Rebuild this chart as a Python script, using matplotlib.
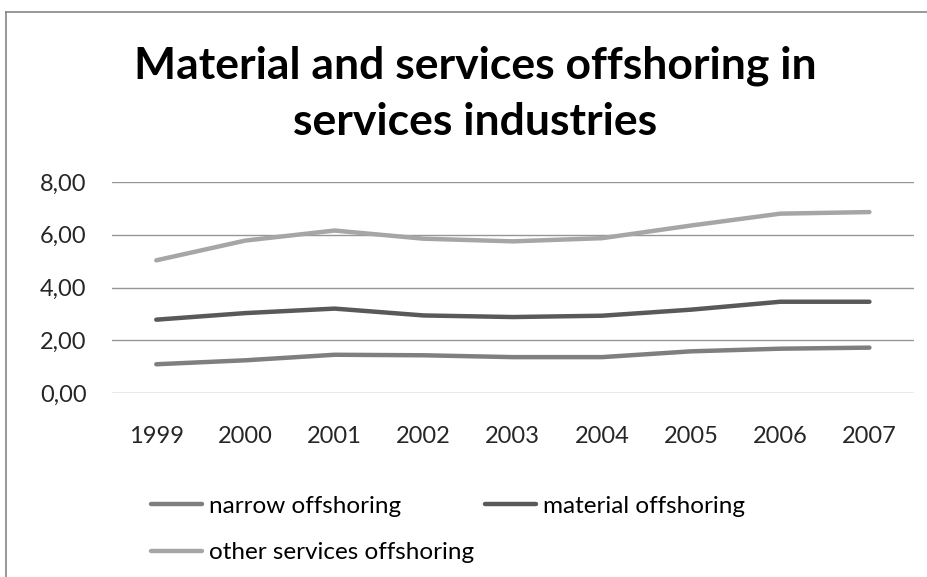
import matplotlib.pyplot as plt
from matplotlib.lines import Line2D
import numpy as np

years = ['1999', '2000', '2001', '2002', '2003', '2004', '2005', '2006', '2007']
narrow = [1.09, 1.24, 1.45, 1.43, 1.36, 1.36, 1.58, 1.68, 1.72]
material = [2.78, 3.03, 3.20, 2.94, 2.88, 2.93, 3.16, 3.46, 3.46]
other_services = [5.03, 5.78, 6.16, 5.85, 5.75, 5.87, 6.35, 6.80, 6.86]
series_names = ['narrow offshoring', 'material offshoring', 'other services offshoring']
title_lines = ['Material and services offshoring in', 'services industries']
yticks = [0, 2, 4, 6, 8]

plt.rcParams['font.family'] = ['Lato', 'DejaVu Sans']

W, H = 927, 577
fig = plt.figure(figsize=(W / 100, H / 100), dpi=100)
ax = fig.add_axes([111.7 / W, 1 - 393 / H, (914 - 111.7) / W, (393 - 182) / H])

colors = ['#7f7f7f', '#595959', '#a6a6a6']
x = np.arange(len(years))
lines = []
for vals, name, c in zip([narrow, material, other_services], series_names, colors):
    ln, = ax.plot(x, vals, color=c, lw=3.2, label=name, solid_capstyle='round', solid_joinstyle='round')
    lines.append(ln)

ax.set_xlim(-0.5, len(years) - 0.5)
ax.set_ylim(0, 8)
ax.set_yticks(yticks)
ax.set_yticklabels([f'{v:.2f}'.replace('.', ',') for v in yticks])
ax.set_xticks(x)
ax.set_xticklabels(years)
ax.grid(True, axis='y', color='#969696', lw=1.0)
ax.set_axisbelow(True)
for s in ax.spines.values():
    s.set_visible(False)
ax.tick_params(length=0, labelsize=17, colors='#262626')
ax.tick_params(axis='x', pad=24)
ax.tick_params(axis='y', pad=18)

# title, two lines as in the original
for txt, base in zip(title_lines, [78, 135]):
    fig.text(475 / W, 1 - base / H, txt, ha='center', va='baseline', fontsize=32, fontweight='bold')

# row-wise order: narrow, material / other
order = [0, 2, 1]
fig.legend([lines[i] for i in order], [series_names[i] for i in order],
           loc='upper left', bbox_to_anchor=(141 / W, 1 - 486 / H), ncol=2, frameon=False,
           fontsize=17.5, handlelength=2.1, handletextpad=0.3, columnspacing=0.45, labelspacing=1.05,
           borderaxespad=0)

# outer chart frame (only top and left edges visible)
fig.add_artist(Line2D([6 / W, 6 / W], [0, 1 - 12 / H], color='#868686', lw=1.2))
fig.add_artist(Line2D([6 / W, 1], [1 - 12 / H, 1 - 12 / H], color='#868686', lw=1.2))

fig.savefig('out.png', dpi=100)
